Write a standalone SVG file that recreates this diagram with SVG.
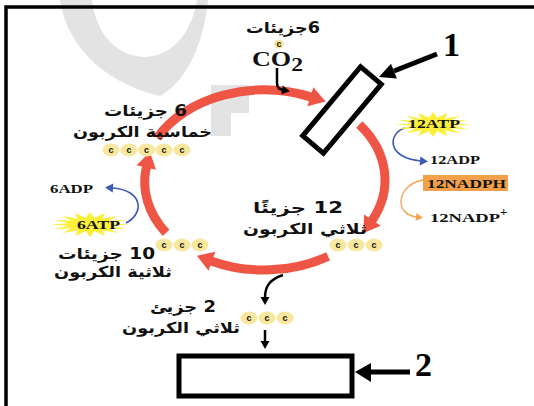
<svg xmlns="http://www.w3.org/2000/svg" width="534" height="406" viewBox="0 0 534 406">
<style>
.arc{fill:none;stroke:#ee5545;stroke-width:9}
.ar{font-family:"DejaVu Sans",sans-serif;font-weight:bold;font-size:15px;direction:rtl;text-anchor:middle;fill:#111}
.lb{font-family:"Liberation Serif",serif;font-weight:bold;font-size:13px;fill:#111}
.num{font-family:"Liberation Serif",serif;font-weight:bold;font-size:34px;fill:#000}
.co{font-family:"Liberation Serif",serif;font-weight:bold;font-size:21px;fill:#111}
.cc{fill:#f8e79c}
.ct{font-family:"Liberation Sans",sans-serif;font-weight:bold;font-size:9px;text-anchor:middle;fill:#111}
.blue{fill:none;stroke:#3c5ab4;stroke-width:1.6}
.orange{fill:none;stroke:#f5a24c;stroke-width:1.3}
.blk{fill:none;stroke:#000;stroke-width:2.5}
.box{fill:#fff;stroke:#000;stroke-width:5}
.star{fill:#fbef3a}
.wm{fill:#e3e3e3}
.frame{fill:none;stroke:#000;stroke-width:3.5}
</style>
<defs>
  <marker id="ra" markerUnits="userSpaceOnUse" markerWidth="30" markerHeight="30" refX="1" refY="0" orient="auto" overflow="visible">
    <path d="M0,-10 L16,0 L0,10 z" fill="#ee5545"/>
  </marker>
  <marker id="ba" markerUnits="userSpaceOnUse" markerWidth="12" markerHeight="12" refX="1" refY="0" orient="auto" overflow="visible">
    <path d="M0,-4.5 L8,0 L0,4.5 z" fill="#3c5ab4"/>
  </marker>
  <marker id="oa" markerUnits="userSpaceOnUse" markerWidth="12" markerHeight="12" refX="1" refY="0" orient="auto" overflow="visible">
    <path d="M0,-4 L7,0 L0,4 z" fill="#f5a24c"/>
  </marker>
  <marker id="ka" markerUnits="userSpaceOnUse" markerWidth="12" markerHeight="12" refX="1" refY="0" orient="auto" overflow="visible">
    <path d="M0,-4.5 L8,0 L0,4.5 z" fill="#000"/>
  </marker>
  <polygon id="burst" class="star" points="1,0 .539,.107 .924,.383 .457,.306 .707,.707 .306,.457 .383,.924 .107,.539 0,1 -.107,.539 -.383,.924 -.306,.457 -.707,.707 -.457,.306 -.924,.383 -.539,.107 -1,0 -.539,-.107 -.924,-.383 -.457,-.306 -.707,-.707 -.306,-.457 -.383,-.924 -.107,-.539 0,-1 .107,-.539 .383,-.924 .306,-.457 .707,-.707 .457,-.306 .924,-.383 .539,-.107"/>
  <g id="c"><ellipse rx="8.5" ry="6.5" class="cc"/><text y="3" class="ct">c</text></g>
</defs>

<rect width="534" height="406" fill="#fff"/>

<!-- faint background watermark -->
<g id="watermark">
  <path class="wm" d="M60,0 C66,42 100,82 160,96 C188,80 204,42 208,0 L197,0 C192,30 175,55 146,57 C118,57 96,35 92,0 Z"/>
  <polygon class="wm" points="211,85 249,85 249,113 231,113 231,136 211,136"/>
</g>

<!-- outer frame -->
<g id="frame">
  <path class="frame" d="M6,406 V7 H534"/>
</g>

<!-- cycle arcs and arrows -->
<g id="connectors">
  <path class="arc" marker-end="url(#ra)" d="M157.2,137.8 A121,90 0 0 1 311.3,97.1"/>
  <path class="arc" marker-end="url(#ra)" d="M359.3,124.6 A121,90 0 0 1 371.8,220.9"/>
  <path class="arc" marker-end="url(#ra)" d="M328.1,256.3 A121,90 0 0 1 211,260.9"/>
  <path class="arc" marker-end="url(#ra)" d="M166.1,232.9 A122,90 0 0 1 146.5,166.5"/>

  <path class="blk" marker-end="url(#ka)" d="M277,68 L277,83 Q277,89 283,90"/>
  <path class="blk" marker-end="url(#ka)" d="M283,275 C268,280 265,288 265,298"/>
  <path class="blk" marker-end="url(#ka)" d="M265,330 L265,342"/>

  <path class="blue" marker-end="url(#ba)" d="M405,128 C388,133 386,158 421,161"/>
  <path class="orange" marker-end="url(#oa)" d="M423,180 C398,184 392,214 417,217"/>
  <path class="blue" marker-end="url(#ba)" d="M126,223 C144,214 144,190 112,188"/>

  <line x1="437" y1="54" x2="394" y2="71" stroke="#000" stroke-width="5"/>
  <polygon points="379,77 391,63.7 396.9,78.5" fill="#000"/>
  <line x1="410" y1="372" x2="370" y2="372" stroke="#000" stroke-width="5"/>
  <polygon points="355,372 371,363 371,382" fill="#000"/>
</g>

<g id="co2">
  <text class="ar" x="283" y="33" textLength="74" lengthAdjust="spacingAndGlyphs">6جزيئات</text>
  <ellipse cx="279" cy="44" rx="5" ry="4.5" class="cc"/>
  <text class="ct" x="279" y="46.5" font-size="7">c</text>
  <text class="co" x="252" y="66" textLength="51" lengthAdjust="spacingAndGlyphs">CO<tspan font-size="19" dy="5">2</tspan></text>
</g>

<g id="enzyme-box">
  <rect class="box" x="-45" y="-13.5" width="90" height="27" transform="translate(342,110) rotate(-50)"/>
  <text class="num" x="443" y="56">1</text>
</g>

<g id="rubp">
  <text class="ar" x="145.5" y="116" textLength="83" lengthAdjust="spacingAndGlyphs">6 جزيئات</text>
  <text class="ar" x="142.5" y="137" textLength="139" lengthAdjust="spacingAndGlyphs">خماسية الكربون</text>
  <use href="#c" x="111" y="150"/>
  <use href="#c" x="129" y="150"/>
  <use href="#c" x="146.5" y="150"/>
  <use href="#c" x="164" y="150"/>
  <use href="#c" x="182" y="150"/>
</g>

<g id="pga12">
  <text class="ar" x="298" y="213" textLength="90" lengthAdjust="spacingAndGlyphs">12 جزيئًا</text>
  <text class="ar" x="305" y="234" textLength="124" lengthAdjust="spacingAndGlyphs">ثلاثي الكربون</text>
  <use href="#c" x="338" y="245"/>
  <use href="#c" x="356" y="245"/>
  <use href="#c" x="374" y="245"/>
</g>

<g id="g3p10">
  <text class="ar" x="106.5" y="259" textLength="97" lengthAdjust="spacingAndGlyphs">10 جزيئات</text>
  <text class="ar" x="113" y="277" textLength="118" lengthAdjust="spacingAndGlyphs">ثلاثية الكربون</text>
  <use href="#c" x="164" y="245"/>
  <use href="#c" x="182" y="245"/>
  <use href="#c" x="200" y="245"/>
</g>

<g id="g3p2">
  <text class="ar" x="183" y="312" textLength="66" lengthAdjust="spacingAndGlyphs">2 جزيئ</text>
  <text class="ar" x="181" y="333" textLength="118" lengthAdjust="spacingAndGlyphs">ثلاثي الكربون</text>
  <use href="#c" x="249" y="318"/>
  <use href="#c" x="267" y="318"/>
  <use href="#c" x="285" y="318"/>
</g>

<g id="product-box">
  <rect class="box" x="179" y="356" width="173" height="40"/>
  <text class="num" x="415" y="376">2</text>
</g>

<g id="atp12">
  <use href="#burst" transform="translate(433,124.5) scale(38,12.5)"/>
  <text class="lb" x="408" y="128" textLength="52" lengthAdjust="spacingAndGlyphs">12ATP</text>
</g>

<g id="adp12">
  <text class="lb" x="430" y="164" textLength="50" lengthAdjust="spacingAndGlyphs">12ADP</text>
</g>

<g id="nadph">
  <rect x="423" y="175" width="85" height="16" fill="#f3a04b"/>
  <text class="lb" x="427" y="188" font-size="14" textLength="79" lengthAdjust="spacingAndGlyphs">12NADPH</text>
</g>

<g id="nadp">
  <text class="lb" x="430" y="222" font-size="14" textLength="70" lengthAdjust="spacingAndGlyphs">12NADP</text>
  <text class="lb" x="500" y="216" font-size="12">+</text>
</g>

<g id="atp6">
  <use href="#burst" transform="translate(90,224.5) scale(40,12.5)"/>
  <text class="lb" x="77" y="229" textLength="43" lengthAdjust="spacingAndGlyphs">6ATP</text>
</g>

<g id="adp6">
  <text class="lb" x="50" y="193" textLength="43" lengthAdjust="spacingAndGlyphs">6ADP</text>
</g>
</svg>
